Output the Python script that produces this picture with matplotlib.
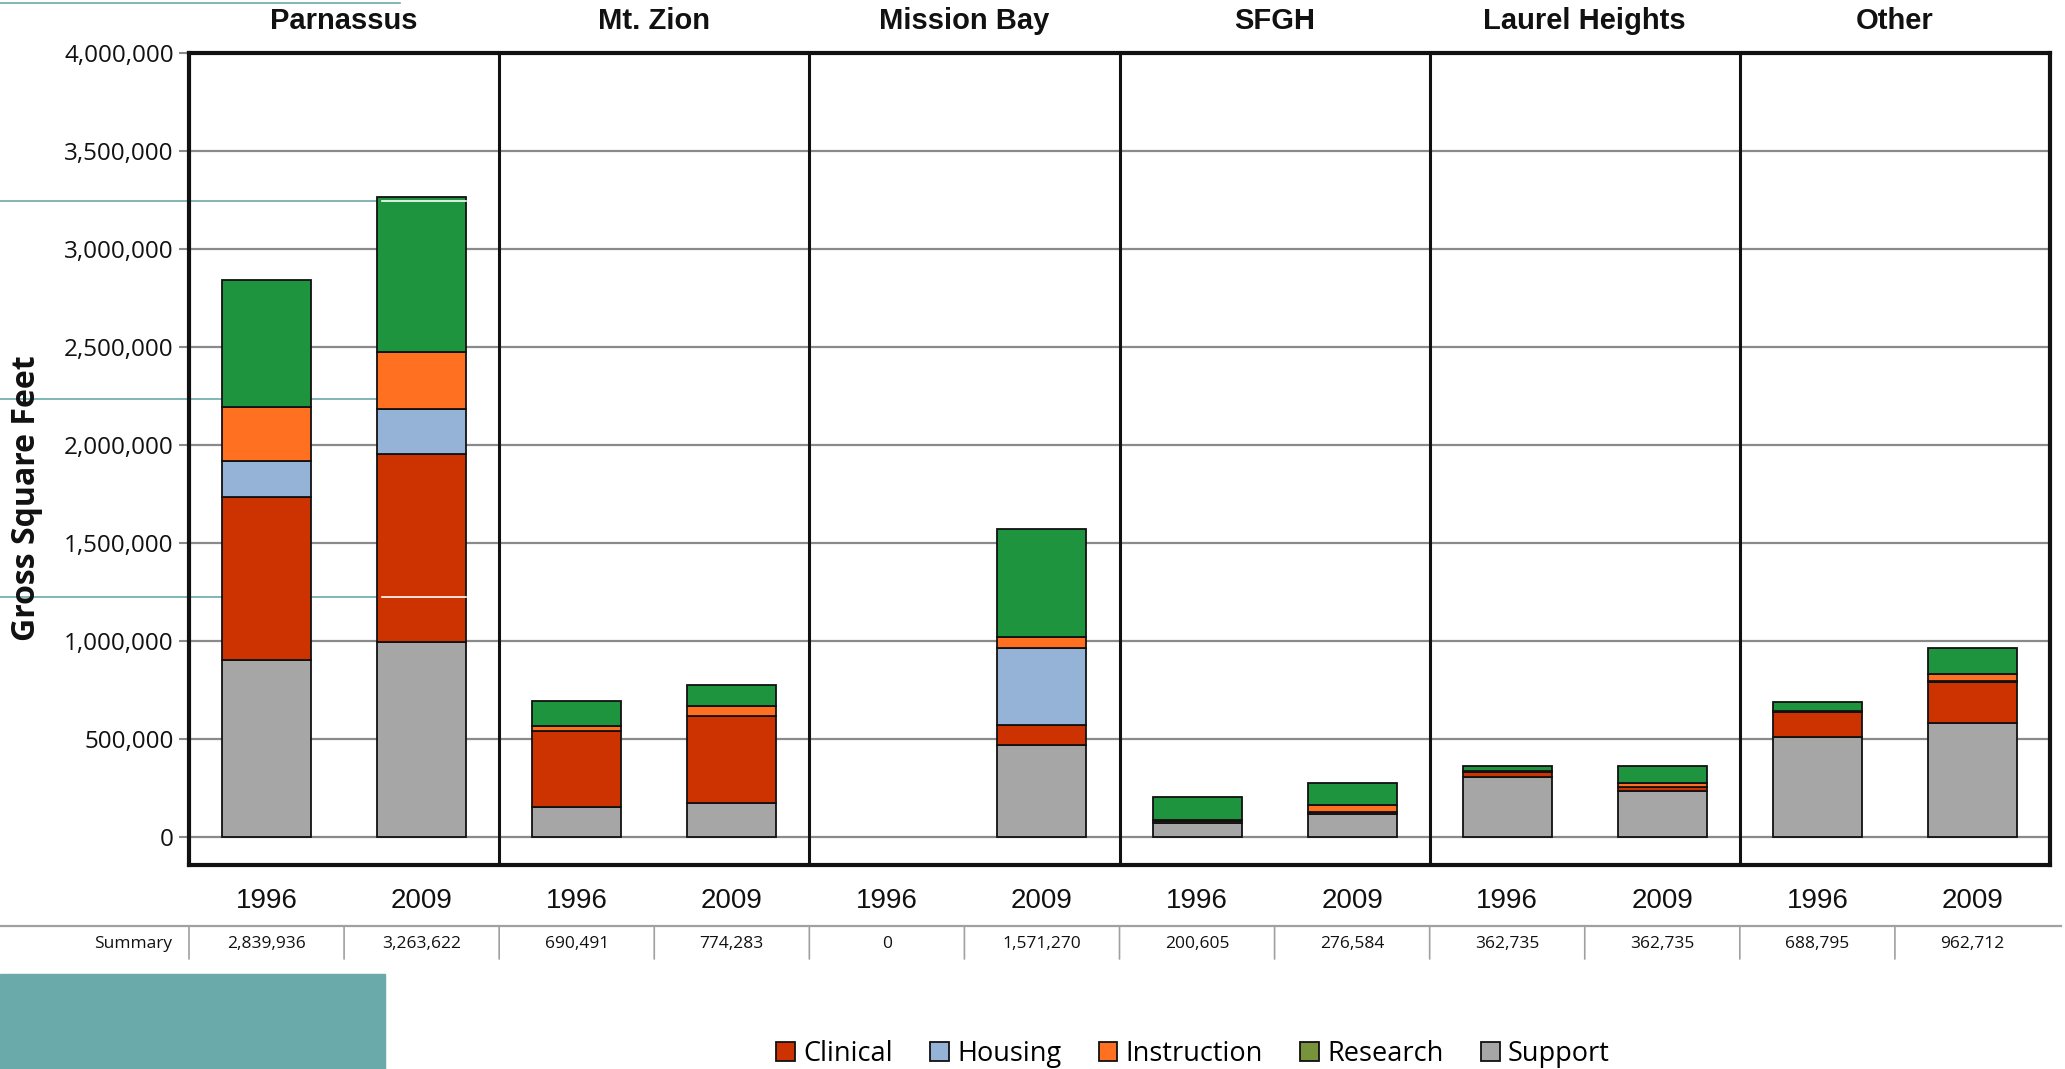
import numpy as np
import matplotlib.pyplot as plt
from matplotlib.patches import Patch
from matplotlib.lines import Line2D

# campuses and years
campuses = ["Parnassus", "Mt. Zion", "Mission Bay", "SFGH", "Laurel Heights", "Other"]
years = ["1996", "2009"] * 6

# gross square feet by use, one value per bar
support = [901000, 995000, 150000, 173000, 0, 466000, 68000, 116000, 306000, 235000, 510000, 578000]
clinical = [832000, 959000, 392000, 443000, 0, 104000, 14000, 10000, 26000, 17000, 128000, 211000]
housing = [182000, 230000, 0, 0, 0, 391000, 0, 0, 0, 0, 0, 8000]
instruction = [277000, 290000, 24000, 51000, 0, 59000, 3000, 34000, 4000, 22000, 5000, 35000]
research = [647936, 789622, 124491, 107283, 0, 551270, 115605, 116584, 26735, 88735, 45795, 130712]
summary = ["2,839,936", "3,263,622", "690,491", "774,283", "0", "1,571,270",
           "200,605", "276,584", "362,735", "362,735", "688,795", "962,712"]

series = ["Clinical", "Housing", "Instruction", "Research", "Support"]
bar_colors = {"Support": "#A6A6A6", "Clinical": "#CC3300", "Housing": "#95B3D7",
              "Instruction": "#FF7020", "Research": "#1F943E"}
legend_colors = dict(bar_colors, Research="#77933C")

teal = "#6BAAAA"
ink = "#111111"
W, H = 2065, 1069

fig = plt.figure(figsize=(20.65, 10.69), dpi=100)
ax = fig.add_axes([189 / W, 1 - 865 / H, (2050 - 189) / W, (865 - 52.7) / H])

x = np.arange(len(years))
bottom = np.zeros(len(years))
for name, vals in [("Support", support), ("Clinical", clinical), ("Housing", housing),
                   ("Instruction", instruction), ("Research", research)]:
    # no outline on empty segments
    lw = [1.3 if v > 0 else 0 for v in vals]
    ax.bar(x, vals, 0.574, bottom=bottom, color=bar_colors[name],
           edgecolor=ink, linewidth=lw, zorder=3)
    bottom += np.array(vals)

ax.set_xlim(-0.5, 11.5)
ax.set_ylim(-144000, 4000000)
ticks = list(range(0, 4000001, 500000))
ax.set_yticks(ticks)
ax.set_yticklabels([f"{v:,}" for v in ticks], fontfamily="Open Sans", fontsize=17.5, color=ink)
ax.tick_params(axis="y", length=7, width=1.5, color="#8a8a8a", pad=4)
ax.set_xticks([])
ax.yaxis.grid(True, color="#8a8a8a", linewidth=1.6)
ax.set_axisbelow(True)
for s in ax.spines.values():
    s.set_color(ink)
    s.set_linewidth(3)

# dividers between campuses
for b in np.arange(1.5, 11, 2):
    ax.axvline(b, color=ink, linewidth=2.2, zorder=4)

# campus names above the plot
for i, c in enumerate(campuses):
    ax.annotate(c, xy=(2 * i + 0.5, 1 - 21 / H), xycoords=("data", "figure fraction"),
                ha="center", va="center", fontsize=21, fontweight="bold",
                family="Liberation Sans", color=ink, annotation_clip=False)

# year labels
for xi, yr in zip(x, years):
    ax.annotate(yr, xy=(xi, 1 - 901 / H), xycoords=("data", "figure fraction"),
                ha="center", va="center", fontsize=20, family="Liberation Sans",
                color=ink, annotation_clip=False)

# summary row
fig.add_artist(Line2D([0, 2061 / W], [1 - 926 / H] * 2, color="#a0a0a0", linewidth=1.6))
for b in np.arange(-0.5, 11, 1):
    ax.annotate("", xy=(b, 1 - 926 / H), xycoords=("data", "figure fraction"),
                xytext=(b, 1 - 959 / H), textcoords=("data", "figure fraction"),
                arrowprops=dict(arrowstyle="-", color="#a0a0a0", linewidth=1.2,
                                shrinkA=0, shrinkB=0), annotation_clip=False)
for xi, v in zip(x, summary):
    ax.annotate(v, xy=(xi, 1 - 944 / H), xycoords=("data", "figure fraction"),
                ha="center", va="center", fontsize=12.5, family="Open Sans",
                color=ink, annotation_clip=False)
fig.text(172 / W, 1 - 944 / H, "Summary", ha="right", va="center", fontsize=12.5,
         family="Open Sans", color=ink)

# y label
fig.text(26.5 / W, 1 - 498 / H, "Gross Square Feet", rotation=90, ha="center", va="center",
         fontsize=23, fontweight="bold", family="Open Sans", color=ink)

# slide decorations
fig.add_artist(plt.Rectangle((0, 0), 385 / W, (H - 974) / H, color=teal, transform=fig.transFigure))
fig.add_artist(Line2D([0, 400 / W], [1 - 3 / H] * 2, color=teal, linewidth=1.2))
for yy in [201, 399, 597]:
    ax.add_line(Line2D([0, 380 / W], [1 - yy / H] * 2, color=teal, linewidth=1.2,
                       transform=fig.transFigure, clip_on=False, zorder=2))
for yy in [201, 597]:
    ax.add_line(Line2D([382 / W, 466 / W], [1 - yy / H] * 2, color="white", linewidth=1.2,
                       transform=fig.transFigure, clip_on=False, zorder=5))

# legend
handles = [Patch(facecolor=legend_colors[n], edgecolor=ink, linewidth=1.3) for n in series]
fig.legend(handles, series, loc="center", bbox_to_anchor=(1193 / W, 1 - 1054 / H), ncol=5,
           frameon=False, prop={"family": "Open Sans", "size": 19.5},
           handlelength=0.7, handleheight=0.7, handletextpad=0.3, columnspacing=1.37,
           borderpad=0, borderaxespad=0)

fig.savefig("out.png", dpi=100)
